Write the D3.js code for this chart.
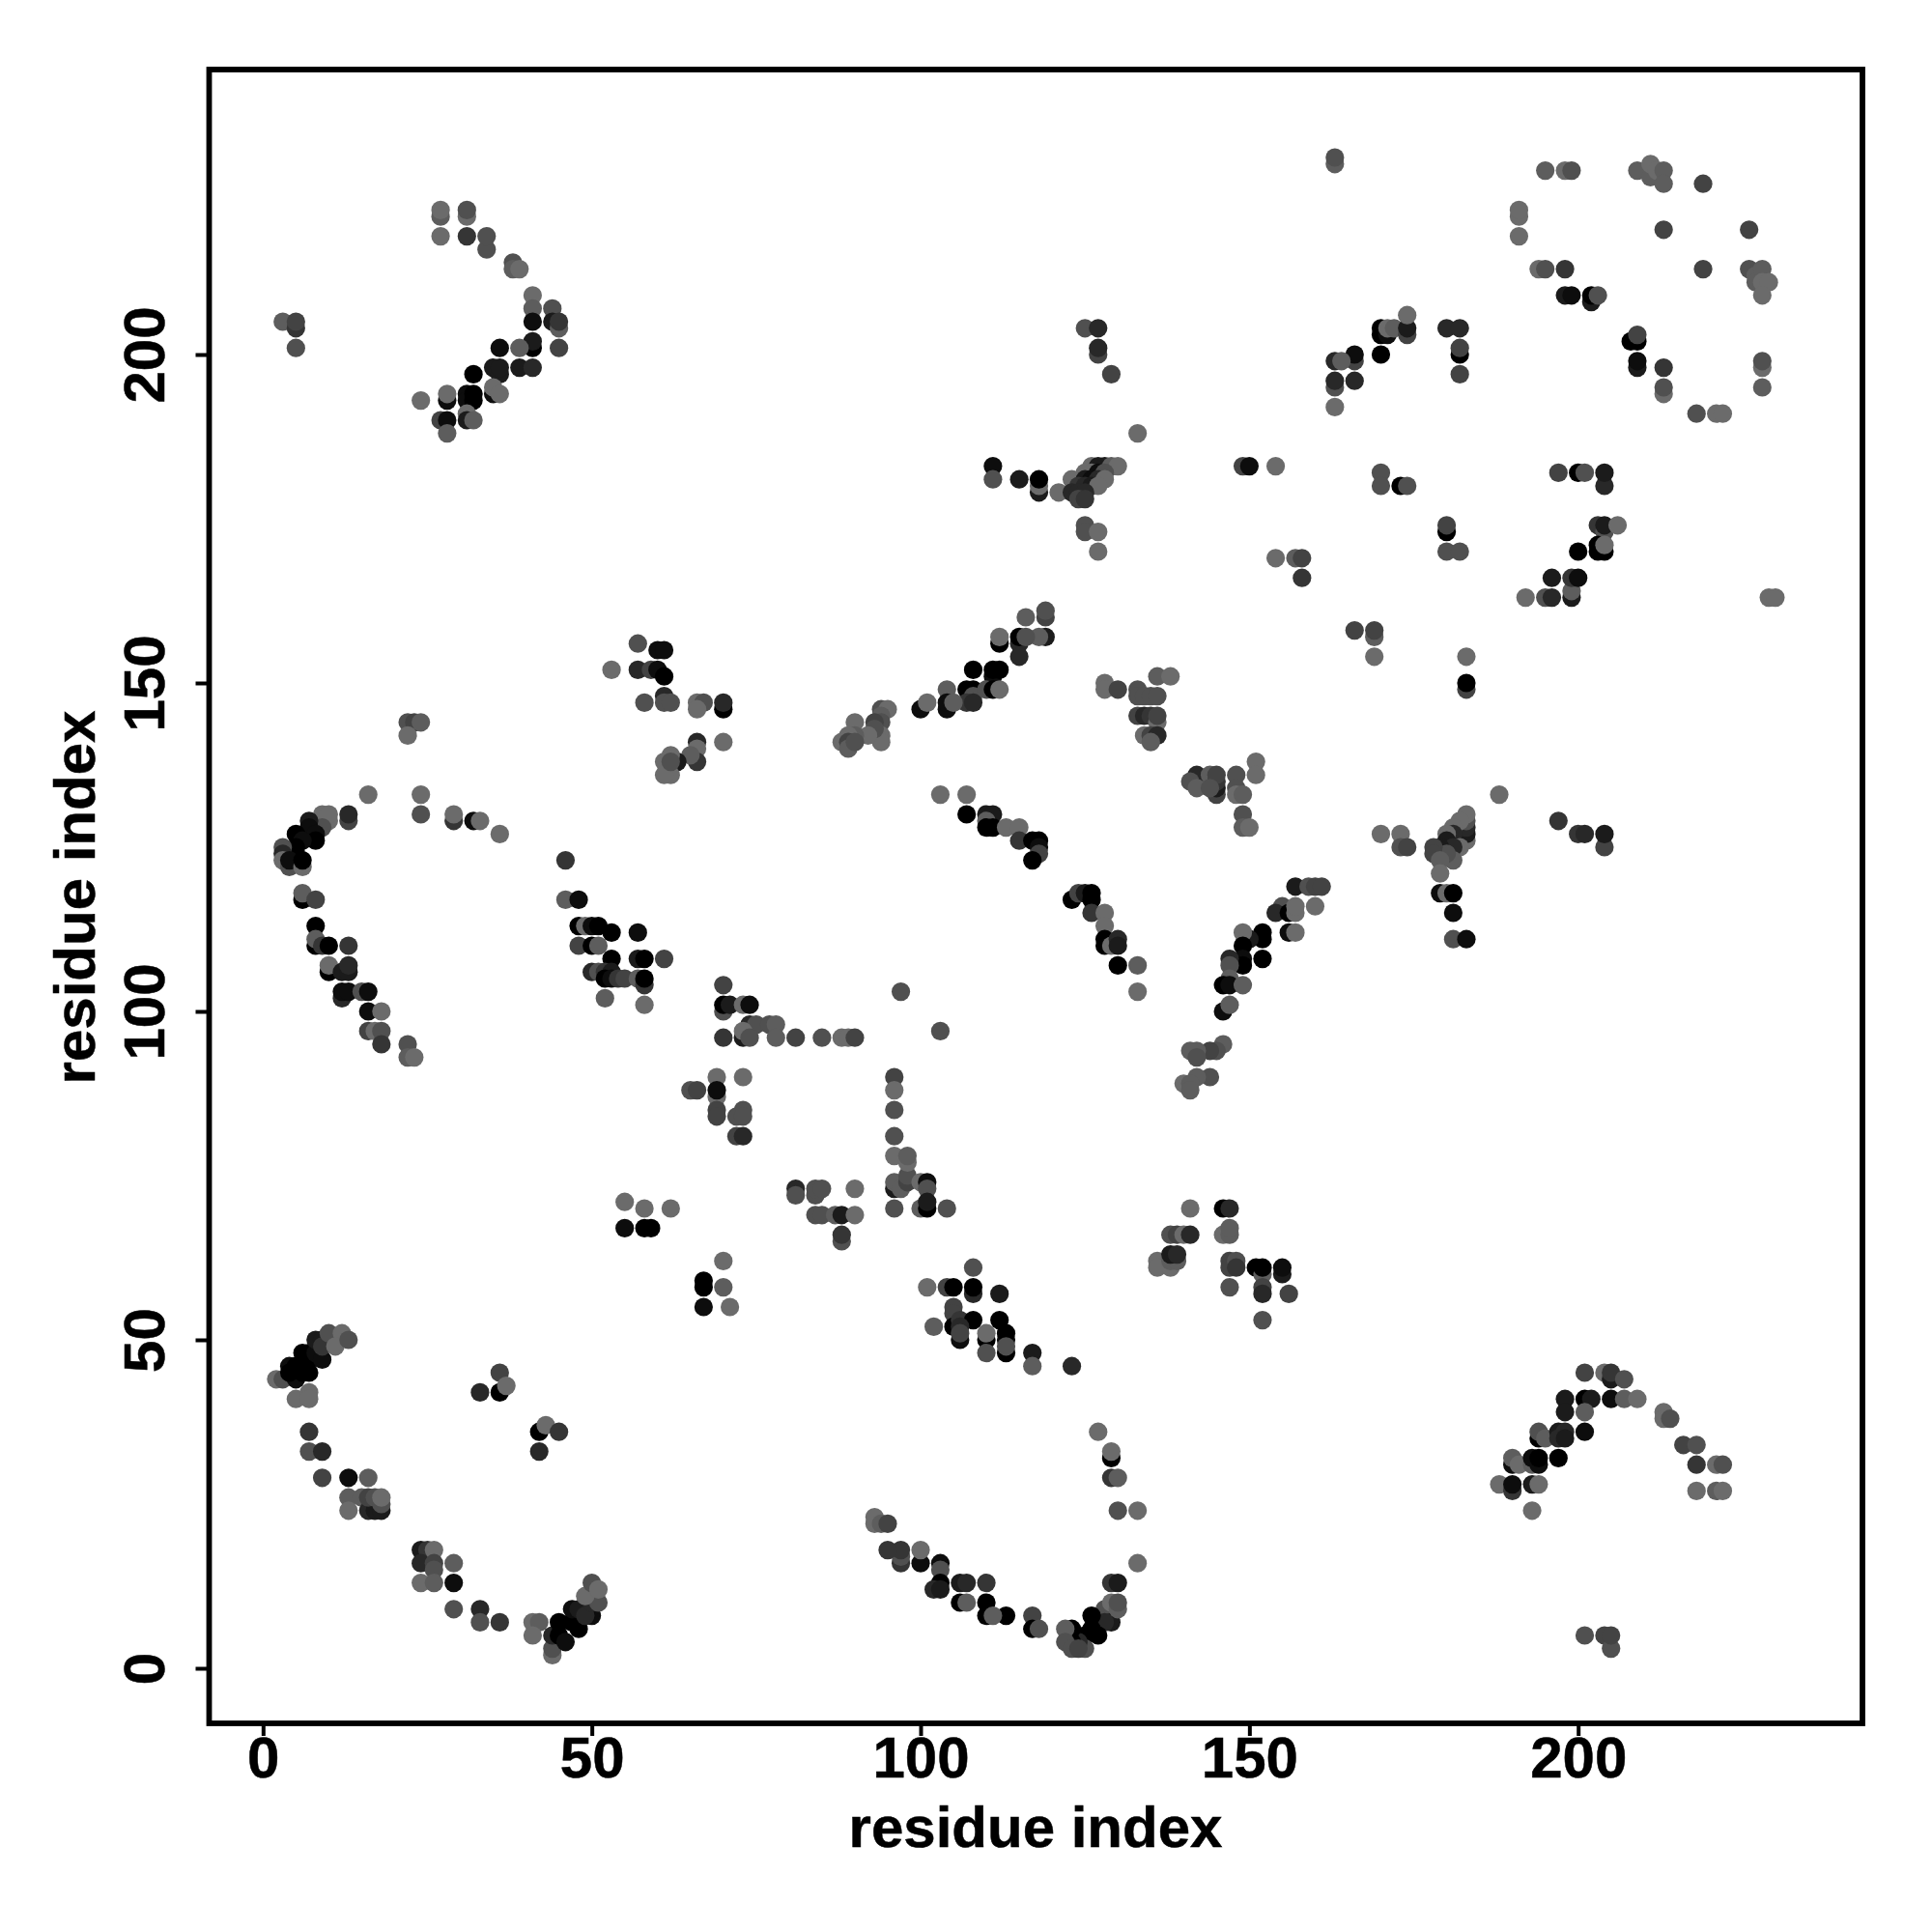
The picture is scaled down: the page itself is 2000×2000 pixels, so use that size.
<!DOCTYPE html>
<html><head><meta charset="utf-8">
<script src="https://d3js.org/d3.v7.min.js"></script>
<style>html,body{margin:0;background:#fff}svg{display:block}</style></head>
<body><svg id="c" width="2000" height="2000"></svg>
<script>
// each contact: [residue i, residue j, strength 0 (lightest) .. 9 (black)]
const bottomLeftA=[[2,44,1],[3,44,3],[5,44,8],[4,46,8],[4,45,9],[5,46,9],[7,45,9],[6,46,9],[6,45,9],[6,48,9],[7,48,9],[7,47,9],[8,48,8],[8,50,7],[9,50,7],[9,47,8],[9,49,5],[10,51,3],[12,51,1],[11,49,1],[13,50,3],[5,41,1],[7,42,1],[7,41,1],[7,36,5],[7,33,3],[9,33,6],[9,29,4],[13,29,8],[16,29,2],[13,26,2],[13,24,1],[15,26,2],[16,24,6],[17,24,7],[18,24,7],[16,26,4],[17,26,3],[18,25,3],[18,26,1]];
const bottomLeftB=[[24,18,7],[25,18,5],[24,16,6],[26,18,1],[26,16,4],[26,15,3],[24,13,1],[26,13,2],[29,16,2],[29,13,8],[29,9,3],[33,9,6],[33,7,3],[36,7,5],[41,7,1],[42,7,2],[41,5,1],[44,2,1],[44,3,3],[44,5,6],[45,7,9],[45,5,9],[46,4,8],[47,7,9],[48,6,9],[47,9,8],[50,8,8],[48,9,7],[49,8,6],[50,10,6],[51,10,3],[49,11,1],[50,13,3],[51,12,1]];
const smallGroups=[[36,45,4],[33,42,6],[36,42,9],[37,43,1],[42,36,9],[43,37,1],[45,36,5],[42,33,6],[67,59,9],[67,58,9],[67,55,8],[70,58,2],[70,62,1],[71,55,1],[55,71,1],[58,70,1],[62,70,1],[55,67,8],[58,67,9],[59,67,9]];
const midA=[[81,73,6],[81,72,3],[84,72,3],[84,73,3],[85,73,3],[90,73,1],[84,69,3],[85,69,3],[87,69,2],[88,69,7],[90,69,1],[88,65,3],[88,66,5],[96,70,3],[96,73,7],[96,74,2],[97,73,2],[98,74,4],[98,75,3],[98,77,1],[96,78,1],[98,78,2],[100,74,1],[101,74,8],[101,73,3],[100,70,2],[101,70,9],[101,71,7],[104,70,3],[96,90,4],[96,88,1],[96,85,3],[96,81,3]];
const midB=[[108,61,3],[101,58,1],[104,58,4],[105,58,9],[108,57,6],[108,58,9],[112,57,7],[105,55,4],[105,54,4],[102,52,2],[105,52,9],[106,53,5],[108,53,9],[112,53,9],[106,52,6],[106,50,8],[106,51,4],[110,50,9],[110,51,1],[110,48,3],[113,48,9],[113,50,8],[113,51,9],[113,49,3],[117,48,7],[117,46,2],[123,46,6]];
const lowerC=[[127,36,1],[129,32,9],[129,33,1],[129,29,5],[130,29,2],[130,24,3],[133,24,1],[133,16,1],[129,13,5],[130,13,7],[128,9,3],[129,7,7],[128,7,6],[127,5,9],[126,8,9],[126,6,9],[125,5,9],[125,3,3],[124,4,6],[123,6,9],[123,4,9],[122,6,2],[122,4,3],[123,3,3],[124,3,4],[129,10,1],[130,9,2],[130,10,3],[117,8,4],[117,6,9],[118,6,3],[113,8,9],[110,10,9],[110,8,9],[111,8,2],[110,13,5],[106,13,7],[107,13,6],[106,10,9],[107,10,2],[103,16,8],[103,15,3],[103,13,9],[102,12,6],[103,12,7],[100,16,8],[100,18,1],[97,16,5],[97,17,3],[97,18,5],[95,18,5],[93,22,1],[93,23,1],[94,22,2],[95,22,4]];
const midRightA=[[141,70,1],[146,70,9],[147,70,6],[146,66,1],[147,66,2],[147,67,2],[138,66,3],[139,66,4],[140,66,1],[141,66,6],[136,62,1],[136,61,1],[138,61,1],[138,62,2],[139,62,2],[138,63,7],[139,63,6],[147,62,4],[147,61,4],[148,62,3],[148,61,5],[147,58,3],[151,61,9],[152,60,2],[152,61,9],[152,58,4],[152,57,6],[155,60,7],[155,61,8],[156,57,4],[152,53,3]];
const bottomRight=[[201,45,4],[204,45,1],[205,44,7],[205,45,5],[207,44,3],[198,41,7],[201,41,9],[202,41,7],[205,41,8],[207,41,2],[209,41,1],[198,39,7],[201,39,2],[213,39,1],[213,38,1],[214,38,3],[194,35,9],[194,36,3],[195,35,2],[197,36,7],[198,36,6],[197,35,6],[198,35,7],[201,36,8],[216,34,4],[218,34,3],[218,31,5],[221,31,1],[222,31,3],[218,27,1],[221,27,2],[222,27,1],[190,31,8],[190,32,2],[191,31,1],[193,31,2],[193,32,8],[194,31,8],[194,32,9],[197,32,9],[188,28,1],[190,27,5],[190,28,8],[193,28,7],[194,28,1],[193,24,1],[201,5,3],[204,5,4],[205,3,3],[205,5,4]];
const leftArc=[[22,144,3],[23,144,4],[24,144,2],[22,142,1],[16,133,1],[24,133,1],[24,130,3],[29,129,5],[29,130,1],[32,129,8],[33,129,1],[36,127,1],[13,129,4],[13,130,6],[10,129,1],[9,130,1],[10,130,1],[9,128,3],[7,129,7],[7,128,8],[8,127,8],[8,126,9],[5,127,9],[6,126,8],[5,125,9],[5,124,9],[3,125,3],[3,124,6],[3,123,1],[4,122,3],[4,123,8],[6,122,1],[6,123,9],[6,117,9],[6,118,2],[8,117,4],[8,113,9],[8,110,9],[8,111,2],[9,110,5],[10,110,9],[13,110,5],[10,106,9],[10,107,1],[12,106,7],[13,106,7],[13,107,6],[12,102,6],[12,103,8],[13,103,8],[15,103,3],[16,103,8],[16,100,8],[18,100,1],[16,97,4],[17,97,1],[18,97,3],[18,95,5],[22,95,3],[22,93,2],[23,93,1]];
const centerLeft=[[46,123,5],[46,117,2],[48,117,8],[48,113,9],[49,113,1],[50,113,8],[51,113,9],[53,112,9],[57,112,8],[48,110,4],[50,110,9],[51,110,2],[53,108,9],[57,108,7],[58,108,9],[61,108,4],[50,106,6],[51,106,3],[52,106,5],[53,106,7],[52,105,9],[53,105,8],[54,105,5],[55,105,4],[57,105,2],[58,104,5],[58,105,9],[52,102,2],[58,101,1]];
const upperLeftMid=[[53,152,1],[57,156,3],[57,152,6],[59,152,4],[60,155,8],[61,155,8],[60,152,8],[61,151,9],[58,147,3],[61,148,6],[61,147,3],[62,147,3],[66,147,1],[67,147,3],[66,146,1],[70,146,9],[70,147,6],[66,141,6],[70,141,1],[66,140,1],[66,138,5],[65,139,2],[63,138,7],[62,139,1],[61,138,1],[62,136,1],[61,136,1],[62,138,3]];
const centerMid=[[70,104,4],[70,100,3],[70,101,9],[71,101,7],[73,101,1],[74,101,8],[74,98,6],[75,98,3],[70,96,5],[73,96,7],[73,97,1],[74,96,3],[69,90,1],[73,90,1],[65,88,3],[66,88,4],[69,87,1],[69,88,8],[69,85,4],[69,84,4],[73,85,3],[72,84,3],[73,84,3],[72,81,4],[73,81,6],[77,98,3],[78,98,2],[78,96,2],[81,96,4],[85,96,3],[88,96,1],[89,96,1],[90,96,4],[97,103,3],[103,97,3]];
const strandUp=[[119,160,4],[119,161,3],[116,160,2],[119,157,7],[118,157,2],[115,156,6],[115,157,9],[116,157,3],[115,154,6],[112,156,9],[112,157,1],[108,152,9],[111,151,8],[111,152,9],[112,152,9],[107,149,9],[108,149,9],[108,148,3],[107,147,5],[108,147,6],[110,149,3],[111,149,9],[112,149,1],[104,149,2],[104,146,8],[104,147,8],[105,147,2],[100,146,8],[101,147,1],[94,146,3],[95,146,1],[94,145,2],[94,144,3],[93,144,4],[90,144,1],[94,142,1],[94,141,1],[93,143,3],[92,142,1],[90,142,2],[89,142,1],[88,141,1],[89,141,4],[89,140,2],[90,141,3]];
const blockMid=[[128,150,1],[128,149,1],[130,149,4],[133,149,3],[133,148,3],[134,148,3],[135,148,3],[136,148,3],[136,151,2],[138,151,1],[133,145,4],[134,145,6],[135,145,5],[136,144,1],[136,145,4],[134,142,1],[135,142,4],[136,142,6],[135,141,2],[151,138,1],[151,136,1],[142,136,6],[141,135,3],[142,134,2],[144,136,2],[145,133,4],[145,134,7],[145,135,5],[145,136,4],[144,134,3],[148,136,3],[148,134,3],[148,133,1],[149,133,2],[149,130,3],[149,128,2],[150,128,1]];
const strandDown=[[103,133,1],[107,133,1],[107,130,9],[110,130,7],[111,130,7],[110,129,2],[110,128,9],[111,128,9],[113,128,1],[115,128,1],[115,126,5],[117,126,9],[118,126,9],[118,125,8],[118,124,4],[117,123,9],[123,117,9],[124,118,4],[125,118,7],[126,118,9],[126,117,9],[126,115,5],[128,115,1],[128,113,1],[128,111,9],[128,110,9],[129,110,1],[130,111,6],[130,110,7],[130,107,9],[133,107,2],[133,103,1]];
const strandRight=[[157,119,7],[159,119,3],[160,119,4],[161,119,4],[160,116,1],[155,116,3],[154,115,6],[156,115,9],[157,115,1],[157,116,1],[156,112,8],[157,112,1],[152,112,9],[152,111,9],[150,111,7],[149,112,1],[149,110,9],[149,108,8],[149,107,9],[152,108,9],[147,108,6],[147,107,3],[147,105,2],[146,104,9],[147,104,8],[149,104,2],[146,100,8],[147,101,2],[146,95,2],[145,94,3],[144,94,4],[142,94,2],[141,94,2],[142,93,3],[144,90,3],[142,90,2],[140,89,1],[141,89,2],[141,88,2]];
const rightMid=[[192,163,1],[195,163,3],[196,163,6],[199,163,7],[199,164,2],[229,163,1],[230,163,1],[166,158,4],[169,157,2],[169,158,4],[169,154,1],[183,154,1],[183,149,4],[183,150,9],[188,133,1],[183,126,1],[183,127,7],[183,128,6],[183,129,3],[183,130,1],[182,129,1],[181,128,1],[181,127,6],[182,125,1],[180,127,1],[180,126,7],[181,125,6],[181,123,2],[179,125,7],[180,124,3],[178,125,4],[178,124,4],[179,123,2],[179,121,1],[170,127,1],[173,127,1],[173,125,3],[174,125,4],[179,118,8],[180,118,1],[181,118,9],[181,115,8],[181,111,3],[183,111,8],[197,129,5],[200,127,5],[201,127,6],[204,125,4],[204,127,7]];
const topLeft=[[3,205,2],[5,204,5],[5,205,4],[5,201,3],[27,221,2],[27,222,1],[27,218,1],[31,221,1],[31,222,3],[31,218,5],[34,216,3],[34,218,3],[38,214,3],[38,213,2],[39,213,1],[41,209,1],[41,207,2],[41,205,8],[44,207,3],[44,205,7],[45,204,2],[45,205,5],[45,201,4],[41,201,9],[41,202,7],[36,201,8],[39,201,2],[35,198,7],[36,197,7],[36,198,7],[39,198,7],[41,198,6],[32,197,9],[35,194,8],[35,195,1],[36,194,1],[31,194,8],[31,193,8],[32,193,9],[32,194,9],[28,193,8],[28,194,1],[24,193,1],[31,191,1],[31,190,7],[32,190,2],[27,190,4],[28,190,8],[28,188,2]];
const topMid=[[125,204,3],[127,204,6],[127,200,4],[127,201,6],[129,197,4],[133,188,1],[111,183,8],[111,181,3],[115,181,7],[118,179,7],[118,180,1],[118,181,9],[121,179,1],[126,183,1],[127,183,7],[128,183,7],[129,183,2],[130,183,1],[125,182,1],[126,182,1],[127,182,8],[128,182,3],[123,181,1],[125,181,7],[126,181,8],[127,181,6],[128,181,1],[124,180,5],[125,180,6],[126,180,7],[127,180,1],[123,179,6],[124,179,6],[125,179,6],[124,178,4],[125,178,5],[125,174,3],[125,173,3],[127,173,1],[127,170,1],[149,183,4],[150,183,8],[154,183,1],[154,169,1],[157,169,2],[158,169,4],[158,166,5]];
const topRight=[[163,229,2],[163,230,3],[195,228,2],[198,228,1],[199,228,3],[209,228,2],[211,227,2],[211,229,1],[212,228,1],[213,228,2],[213,226,2],[219,226,4],[191,221,1],[191,222,1],[191,218,1],[213,219,4],[226,219,4],[194,213,1],[195,213,3],[198,213,5],[219,213,4],[226,213,3],[227,212,2],[227,211,2],[228,213,2],[228,211,1],[229,211,1],[228,209,1],[198,209,7],[199,209,8],[202,208,7],[202,209,9],[203,209,3]];
const upperRight=[[170,203,9],[170,204,9],[171,203,8],[171,204,1],[172,204,2],[174,203,4],[174,204,7],[174,206,1],[180,204,6],[182,204,6],[182,200,9],[182,201,4],[182,197,4],[170,200,9],[166,199,4],[166,200,8],[163,199,6],[164,199,2],[163,195,3],[163,196,6],[166,196,6],[163,192,1],[208,202,9],[209,202,9],[209,203,4],[209,198,7],[209,199,8],[213,198,5],[213,194,1],[213,195,3],[218,191,3],[221,191,1],[222,191,1],[228,198,1],[228,199,3],[228,195,2]];
const rightBlock=[[170,182,3],[170,180,3],[173,180,9],[174,180,3],[197,182,4],[200,182,9],[201,182,3],[204,180,6],[204,182,7],[180,173,9],[180,174,4],[180,170,3],[182,170,3],[203,174,5],[204,173,3],[204,174,7],[206,174,1],[200,170,9],[203,171,9],[203,170,9],[204,170,9],[204,171,1],[196,166,7],[199,166,5],[200,166,8]];
const tickValues=[0,50,100,150,200];
const axisLabel="residue index";

const contacts=[bottomLeftA,bottomLeftB,smallGroups,midA,midB,lowerC,midRightA,bottomRight,leftArc,centerLeft,upperLeftMid,centerMid,strandUp,blockMid,strandDown,strandRight,rightMid,topLeft,topMid,topRight,upperRight,rightBlock].flat();

const svg=d3.select("#c");
const font="'Liberation Sans',Arial,sans-serif";
const x=d3.scaleLinear().domain([0,200]).range([272.3,1633.7]);
const y=d3.scaleLinear().domain([0,200]).range([1727,367]);
const shade=d3.scaleLinear().domain([0,9]).range([120,0]);

svg.append("g").selectAll("circle").data(contacts).join("circle")
  .attr("cx",d=>x(d[0])).attr("cy",d=>y(d[1])).attr("r",9.6)
  .attr("fill",d=>{const g=Math.round(shade(d[2]));return `rgb(${g},${g},${g})`;});

svg.append("rect").attr("x",216.5).attr("y",72).attr("width",1711.5).attr("height",1712)
  .attr("fill","none").attr("stroke","#000").attr("stroke-width",5.8);

const gx=svg.append("g").attr("transform","translate(0,1784)")
  .call(d3.axisBottom(x).tickValues(tickValues).tickSize(13).tickPadding(0.4).tickFormat(d3.format("d")));
const gy=svg.append("g").attr("transform","translate(216.5,0)")
  .call(d3.axisLeft(y).tickValues(tickValues).tickSize(14).tickFormat(d3.format("d")));
[gx,gy].forEach(g=>{g.select(".domain").remove();g.selectAll("line").attr("stroke","#000").attr("stroke-width",4);});
const styleText=s=>s.attr("font-family",font).attr("font-weight","bold").attr("font-size",60).attr("fill","#000").attr("stroke","#000").attr("stroke-width",0.5);
styleText(gx.selectAll("text"));
gy.selectAll("text").attr("x",null).attr("dy",null).attr("text-anchor","middle")
   .attr("transform","translate(-46.5,0) rotate(-90)");
styleText(gy.selectAll("text"));
styleText(svg.append("text").text(axisLabel).attr("x",1072).attr("y",1912).attr("text-anchor","middle"));
styleText(svg.append("text").text(axisLabel).attr("transform","translate(98,929) rotate(-90)").attr("text-anchor","middle"));
</script></body></html>
